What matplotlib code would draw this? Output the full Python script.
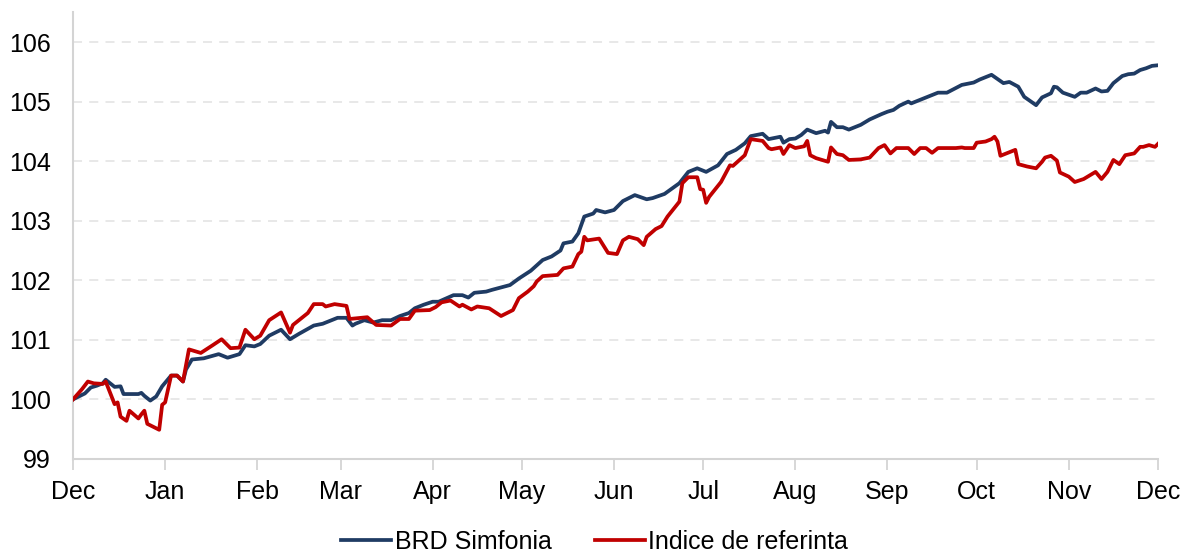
import pandas as pd
import matplotlib
matplotlib.use("Agg")
import matplotlib.pyplot as plt
import matplotlib.dates as mdates

# Start of the period shown on the axis
start = "2012-12-01"

# BRD Simfonia - day offsets from start and index values
fund_days = [0, 4, 6, 8, 10, 11, 14, 16, 17, 22, 23, 24, 26, 28, 30, 33, 35, 37, 38, 40,
             44, 49, 52, 56, 58, 61, 63, 66, 70, 73, 76, 81, 84, 89, 92, 94, 95, 98, 101, 104,
             107, 110, 113, 115, 118, 121, 123, 128, 131, 133, 135, 139, 141, 144, 147, 150, 154, 158, 161, 164,
             165, 168, 170, 172, 175, 176, 179, 182, 185, 189, 193, 195, 199, 204, 207, 210, 213, 217, 220, 223,
             226, 228, 232, 234, 238, 239, 241, 243, 245, 247, 250, 253, 254, 255, 257, 259, 261, 263, 265, 268,
             272, 274, 276, 278, 281, 282, 284, 287, 290, 291, 294, 299, 303, 305, 309, 313, 315, 318, 320, 324,
             326, 329, 330, 331, 333, 337, 339, 341, 344, 346, 348, 350, 353, 355, 357, 359, 361, 363, 365]
fund_vals = [100.00, 100.10, 100.20, 100.23, 100.27, 100.33, 100.21, 100.22, 100.09, 100.09, 100.11, 100.06, 99.98, 100.05, 100.22, 100.40, 100.40, 100.30, 100.50, 100.67,
             100.69, 100.76, 100.70, 100.76, 100.91, 100.89, 100.93, 101.07, 101.17, 101.01, 101.10, 101.24, 101.27, 101.37, 101.37, 101.24, 101.27, 101.33, 101.29, 101.33,
             101.33, 101.40, 101.45, 101.53, 101.59, 101.64, 101.64, 101.75, 101.75, 101.71, 101.79, 101.81, 101.84, 101.88, 101.92, 102.03, 102.16, 102.34, 102.40, 102.50,
             102.62, 102.65, 102.79, 103.07, 103.12, 103.18, 103.14, 103.18, 103.33, 103.43, 103.36, 103.38, 103.45, 103.63, 103.82, 103.88, 103.82, 103.93, 104.12, 104.19,
             104.30, 104.42, 104.46, 104.37, 104.41, 104.31, 104.37, 104.38, 104.44, 104.53, 104.47, 104.51, 104.48, 104.66, 104.57, 104.57, 104.53, 104.57, 104.61, 104.70,
             104.79, 104.83, 104.86, 104.93, 105.00, 104.97, 105.01, 105.07, 105.13, 105.15, 105.15, 105.28, 105.32, 105.37, 105.45, 105.31, 105.33, 105.25, 105.08, 104.94,
             105.07, 105.14, 105.25, 105.24, 105.15, 105.08, 105.15, 105.15, 105.22, 105.17, 105.18, 105.31, 105.43, 105.46, 105.47, 105.53, 105.56, 105.60, 105.61]

# Indice de referinta - day offsets from start and index values
bench_days = [0, 3, 5, 7, 10, 11, 14, 15, 16, 18, 19, 22, 23, 24, 25, 29, 30, 31, 33, 35,
              37, 39, 41, 43, 47, 50, 53, 56, 58, 61, 63, 66, 70, 73, 74, 79, 81, 84, 85, 88,
              92, 93, 99, 102, 107, 110, 113, 115, 120, 122, 124, 127, 130, 131, 134, 136, 140, 144, 148, 150,
              153, 155, 156, 158, 163, 165, 168, 170, 171, 172, 173, 177, 180, 183, 185, 187, 190, 192, 193, 196,
              198, 200, 204, 205, 207, 210, 211, 212, 213, 214, 218, 221, 222, 226, 228, 232, 234, 235, 238, 239,
              241, 243, 246, 247, 248, 250, 254, 255, 257, 259, 261, 265, 268, 271, 273, 275, 277, 281, 283, 285,
              287, 289, 291, 297, 299, 300, 303, 304, 307, 309, 310, 311, 312, 314, 317, 318, 321, 324, 326, 327,
              329, 331, 332, 335, 337, 340, 344, 346, 348, 350, 352, 354, 357, 359, 360, 362, 364, 365]
bench_vals = [100.00, 100.17, 100.30, 100.27, 100.26, 100.30, 99.92, 99.95, 99.71, 99.64, 99.81, 99.68, 99.75, 99.81, 99.59, 99.49, 99.91, 99.95, 100.40, 100.40,
              100.30, 100.84, 100.81, 100.78, 100.91, 101.01, 100.86, 100.87, 101.17, 101.01, 101.07, 101.33, 101.46, 101.12, 101.25, 101.45, 101.60, 101.60, 101.56, 101.60,
              101.57, 101.35, 101.38, 101.25, 101.24, 101.35, 101.35, 101.49, 101.50, 101.55, 101.63, 101.66, 101.56, 101.59, 101.51, 101.56, 101.53, 101.40, 101.50, 101.70,
              101.81, 101.90, 101.98, 102.07, 102.09, 102.20, 102.23, 102.44, 102.48, 102.73, 102.67, 102.70, 102.46, 102.44, 102.67, 102.73, 102.69, 102.59, 102.73, 102.86,
              102.91, 103.07, 103.32, 103.63, 103.73, 103.73, 103.53, 103.52, 103.30, 103.40, 103.65, 103.93, 103.92, 104.10, 104.37, 104.34, 104.22, 104.20, 104.23, 104.12,
              104.27, 104.22, 104.25, 104.34, 104.10, 104.05, 103.99, 104.23, 104.12, 104.10, 104.02, 104.03, 104.06, 104.22, 104.27, 104.13, 104.22, 104.22, 104.12, 104.22,
              104.22, 104.14, 104.22, 104.22, 104.23, 104.22, 104.22, 104.31, 104.33, 104.37, 104.41, 104.33, 104.09, 104.13, 104.19, 103.95, 103.91, 103.88, 103.99, 104.06,
              104.09, 104.01, 103.81, 103.74, 103.65, 103.70, 103.82, 103.70, 103.82, 104.02, 103.95, 104.10, 104.13, 104.24, 104.24, 104.27, 104.24, 104.29]

labels = ["BRD Simfonia", "Indice de referinta"]
colors = ["#1F3B63", "#C00000"]

plt.rcParams['font.family'] = ['Liberation Sans', 'DejaVu Sans']

t0 = pd.Timestamp(start)
fund_x = [t0 + pd.Timedelta(days=d) for d in fund_days]
bench_x = [t0 + pd.Timedelta(days=d) for d in bench_days]

fig = plt.figure(figsize=(11.85, 5.57), dpi=100)
ax = fig.add_axes([0.0616, 0.176, 0.9156, 0.802])

ax.plot(fund_x, fund_vals, color=colors[0], lw=2.7, label=labels[0], zorder=3)
ax.plot(bench_x, bench_vals, color=colors[1], lw=2.7, label=labels[1], zorder=4)

ax.set_xlim(t0, t0 + pd.Timedelta(days=365))
ax.set_ylim(99, 106.5)
ax.set_yticks(range(99, 107))

ax.xaxis.set_major_locator(mdates.MonthLocator())
ax.xaxis.set_major_formatter(mdates.DateFormatter('%b'))

ax.grid(axis='y', color='#E6E6E6', linestyle=(0, (5, 4)), linewidth=1.3, zorder=0)
for side in ['top', 'right']:
    ax.spines[side].set_visible(False)
for side in ['left', 'bottom']:
    ax.spines[side].set_color('#D4D4D4')
    ax.spines[side].set_linewidth(1.5)

ax.tick_params(axis='x', direction='out', length=8, width=1.3, color='#D4D4D4',
               labelsize=18, pad=7)
ax.tick_params(axis='y', length=0, labelsize=18, pad=16)

fig.legend(loc='center', bbox_to_anchor=(0.502, 1 - 542 / 557), ncol=2, frameon=False,
           fontsize=18, handlelength=2.0, handletextpad=0.15, columnspacing=1.7,
           borderpad=0.1)

fig.savefig('out.png', dpi=100)
